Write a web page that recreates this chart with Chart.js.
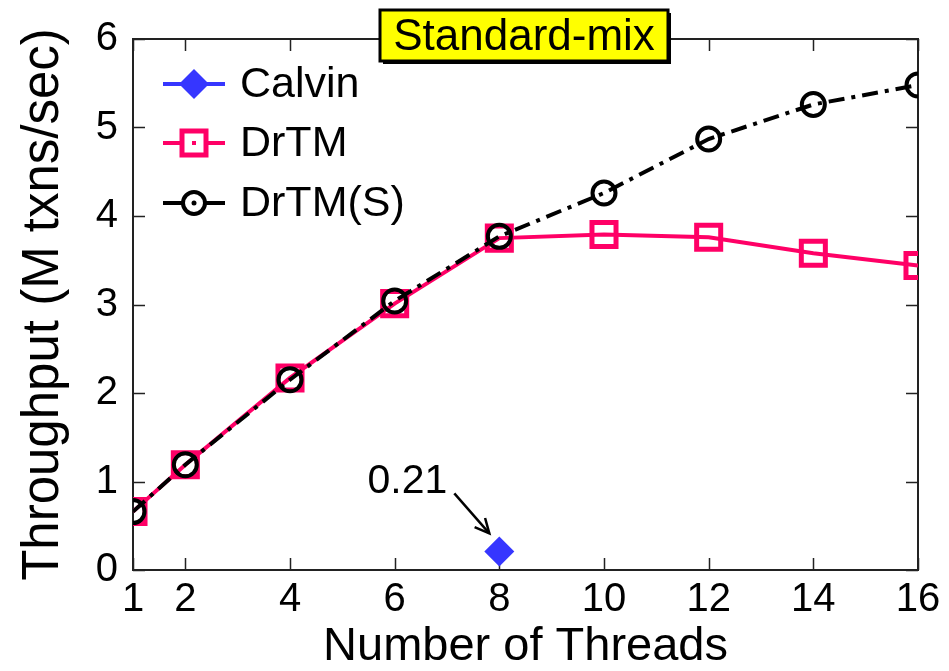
<!DOCTYPE html>
<html>
<head>
<meta charset="utf-8">
<script src="https://cdn.jsdelivr.net/npm/chart.js@4/dist/chart.umd.min.js"></script>
<style>
html,body{margin:0;padding:0;background:#fff;}
#wrap{width:949px;height:671px;position:relative;}
</style>
</head>
<body>
<div id="wrap"><canvas id="c" width="949" height="671"></canvas></div>
<script>
const threads = [1, 2, 4, 6, 8, 10, 12, 14, 16];
const drtm    = [0.66, 1.19, 2.17, 3.01, 3.75, 3.79, 3.76, 3.58, 3.44];
const drtmS   = [0.66, 1.19, 2.15, 3.04, 3.77, 4.26, 4.87, 5.26, 5.48];
const calvinThreads = [8];
const calvin  = [0.21];
const yTicks  = [0, 1, 2, 3, 4, 5, 6];
const seriesNames = ['Calvin', 'DrTM', 'DrTM(S)'];
const chartTitle = 'Standard-mix';
const calloutText = '0.21';

const BLUE = '#3636ff', PINK = '#ff0066', BLACK = '#000000';
const FONT = "'Liberation Sans', Arial, sans-serif";

function pts(xs, ys){ return xs.map((x,i)=>({x:x, y:ys[i]})); }

const framePlugin = {
  id: 'frame',
  beforeDatasetsDraw(chart){
    const {ctx, chartArea:a, scales:{x, y}} = chart;
    ctx.save();
    ctx.strokeStyle = '#222';
    ctx.lineWidth = 2;
    ctx.strokeRect(a.left, a.top, a.right - a.left, a.bottom - a.top);
    ctx.lineWidth = 1.5;
    const L = 12;
    ctx.beginPath();
    threads.forEach(t => {
      const px = Math.round(x.getPixelForValue(t)) + 0.5;
      ctx.moveTo(px, a.bottom); ctx.lineTo(px, a.bottom - L);
      ctx.moveTo(px, a.top); ctx.lineTo(px, a.top + L);
    });
    yTicks.forEach(v => {
      const py = Math.round(y.getPixelForValue(v)) + 0.5;
      ctx.moveTo(a.left, py); ctx.lineTo(a.left + L, py);
      ctx.moveTo(a.right, py); ctx.lineTo(a.right - L, py);
    });
    ctx.stroke();
    ctx.restore();
  },
  afterDraw(chart){
    const {ctx, chartArea:a, scales:{x, y}} = chart;
    ctx.save();
    // legend
    const rows = [
      {name: seriesNames[0], color: BLUE, style: 'diamond', dash: []},
      {name: seriesNames[1], color: PINK, style: 'square', dash: []},
      {name: seriesNames[2], color: BLACK, style: 'circle', dash: []}
    ];
    const lx0 = 163, lx1 = 225, mx = 194, tx = 240;
    const ly = [84, 143, 203];
    rows.forEach((r, i) => {
      const yy = ly[i];
      ctx.strokeStyle = r.color; ctx.lineWidth = 4;
      ctx.beginPath(); ctx.moveTo(lx0, yy); ctx.lineTo(lx1, yy); ctx.stroke();
      if (r.style === 'diamond') {
        ctx.fillStyle = r.color;
        ctx.beginPath();
        ctx.moveTo(mx - 15, yy); ctx.lineTo(mx, yy - 15); ctx.lineTo(mx + 15, yy); ctx.lineTo(mx, yy + 15);
        ctx.closePath(); ctx.fill();
      } else if (r.style === 'square') {
        ctx.fillStyle = '#fff';
        ctx.lineWidth = 5;
        ctx.fillRect(mx - 12, yy - 12, 24, 24);
        ctx.strokeRect(mx - 12, yy - 12, 24, 24);
        ctx.fillStyle = r.color; ctx.fillRect(mx - 2, yy - 2, 4, 4);
      } else {
        ctx.fillStyle = '#fff';
        ctx.lineWidth = 4;
        ctx.beginPath(); ctx.arc(mx, yy, 11, 0, Math.PI * 2); ctx.fill(); ctx.stroke();
        ctx.fillStyle = r.color; ctx.beginPath(); ctx.arc(mx, yy, 2.5, 0, Math.PI*2); ctx.fill();
      }
      ctx.fillStyle = '#000';
      ctx.font = '43px ' + FONT;
      ctx.textAlign = 'left'; ctx.textBaseline = 'middle';
      ctx.fillText(r.name, tx, yy + 1);
    });
    // callout
    const cx = x.getPixelForValue(calvinThreads[0]);
    const cy = y.getPixelForValue(calvin[0]);
    ctx.fillStyle = '#000';
    ctx.font = '41px ' + FONT;
    ctx.textAlign = 'center'; ctx.textBaseline = 'middle';
    ctx.fillText(calloutText, cx - 92, cy - 70);
    const ax0 = cx - 45, ay0 = cy - 58, ax1 = cx - 10, ay1 = cy - 18;
    ctx.strokeStyle = '#000'; ctx.lineWidth = 2.5;
    ctx.beginPath(); ctx.moveTo(ax0, ay0); ctx.lineTo(ax1, ay1); ctx.stroke();
    const ang = Math.atan2(ay1 - ay0, ax1 - ax0);
    const hl = 16, ha = 0.45;
    ctx.beginPath();
    ctx.moveTo(ax1 - hl * Math.cos(ang - ha), ay1 - hl * Math.sin(ang - ha));
    ctx.lineTo(ax1, ay1);
    ctx.lineTo(ax1 - hl * Math.cos(ang + ha), ay1 - hl * Math.sin(ang + ha));
    ctx.stroke();
    // title box
    const bx = 380, by = 10, bw = 288, bh = 51;
    ctx.fillStyle = '#000';
    ctx.fillRect(bx + 3, by + 3, bw, bh);
    ctx.fillStyle = '#ffff00';
    ctx.fillRect(bx, by, bw, bh);
    ctx.strokeStyle = '#000'; ctx.lineWidth = 3;
    ctx.strokeRect(bx, by, bw, bh);
    ctx.fillStyle = '#000';
    ctx.font = '44px ' + FONT;
    ctx.textAlign = 'center'; ctx.textBaseline = 'middle';
    ctx.fillText(chartTitle, bx + bw / 2, by + bh / 2 + 2);
    ctx.restore();
  }
};

new Chart(document.getElementById('c'), {
  type: 'line',
  data: {
    datasets: [
      {
        label: seriesNames[0], data: pts(calvinThreads, calvin),
        borderColor: BLUE, backgroundColor: BLUE, showLine: false,
        pointStyle: 'rectRot', pointRadius: 15, pointBorderWidth: 0,
        pointBackgroundColor: BLUE, order: 0
      },
      {
        label: seriesNames[1], data: pts(threads, drtm),
        borderColor: PINK, borderWidth: 4, fill: false, tension: 0,
        pointStyle: 'rect', pointRadius: 17, pointBorderWidth: 5,
        pointBorderColor: PINK, pointBackgroundColor: 'rgba(0,0,0,0)', order: 2
      },
      {
        label: seriesNames[2], data: pts(threads, drtmS),
        borderColor: BLACK, borderWidth: 4, borderDash: [16, 7, 4, 7], fill: false, tension: 0,
        pointStyle: 'circle', pointRadius: 11.5, pointBorderWidth: 4,
        pointBorderColor: BLACK, pointBackgroundColor: 'rgba(0,0,0,0)', order: 1
      }
    ]
  },
  options: {
    responsive: false,
    animation: false,
    events: [],
    layout: { padding: { top: 37, right: 31, left: 0, bottom: 0 } },
    plugins: { legend: { display: false }, tooltip: { enabled: false }, title: { display: false } },
    scales: {
      x: {
        type: 'linear', min: 1, max: 16,
        afterBuildTicks: s => { s.ticks = threads.map(v => ({value: v})); },
        afterFit: s => { s.height = 101; },
        grid: { display: false, drawTicks: false },
        border: { display: false },
        ticks: { color: '#000', font: { family: FONT, size: 40 }, padding: 6, maxRotation: 0, autoSkip: false },
        title: { display: true, text: 'Number of Threads', color: '#000',
                 font: { family: FONT, size: 47, lineHeight: 1 }, padding: { top: 0, bottom: 0 } }
      },
      y: {
        min: 0, max: 6,
        afterBuildTicks: s => { s.ticks = yTicks.map(v => ({value: v})); },
        afterFit: s => { s.width = 133; },
        grid: { display: false, drawTicks: false },
        border: { display: false },
        ticks: { color: '#000', font: { family: FONT, size: 40 }, padding: 15 },
        title: { display: true, text: 'Throughput (M txns/sec)', color: '#000',
                 font: { family: FONT, size: 51, lineHeight: 1 }, padding: { top: 18, bottom: 0 } }
      }
    }
  },
  plugins: [framePlugin]
});
</script>
</body>
</html>
